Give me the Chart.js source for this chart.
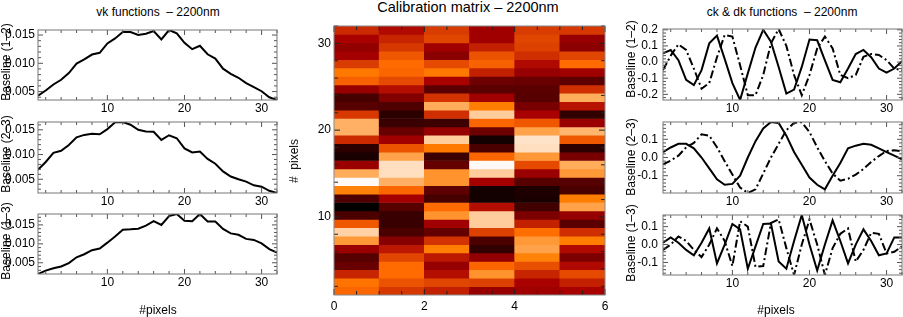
<!DOCTYPE html>
<html>
<head>
<meta charset="utf-8">
<title>vk / ck &amp; dk functions and calibration matrix – 2200nm</title>
<script src="https://cdn.jsdelivr.net/npm/chart.js@4.4.1/dist/chart.umd.min.js"></script>
<style>
  html, body { margin:0; padding:0; background:#fff; }
  #wrap { position:relative; width:903px; height:317px; overflow:hidden; background:#fff;
          font-family:"Liberation Sans", Arial, Helvetica, sans-serif; color:#000; }
  #wrap canvas { position:absolute; }
  .txt { position:absolute; white-space:pre; font-size:12px; line-height:1; transform:translate(-50%,-50%); }
  .rot { transform:translate(-50%,-50%) rotate(-90deg); }
</style>
</head>
<body>
<div id="wrap">
  <canvas id="L1"></canvas>
  <canvas id="L2"></canvas>
  <canvas id="L3"></canvas>
  <canvas id="M"></canvas>
  <canvas id="R1"></canvas>
  <canvas id="R2"></canvas>
  <canvas id="R3"></canvas>

  <div class="txt" style="left:158px;top:12px">vk functions  – 2200nm</div>
  <div class="txt" style="left:468px;top:7px;font-size:14.5px">Calibration matrix – 2200nm</div>
  <div class="txt" style="left:782px;top:12px">ck &amp; dk functions  – 2200nm</div>

  <div class="txt rot" style="left:6px;top:62px">Baseline (1–2)</div>
  <div class="txt rot" style="left:6px;top:154px">Baseline (2–3)</div>
  <div class="txt rot" style="left:6px;top:241px">Baseline (1–3)</div>
  <div class="txt rot" style="left:294px;top:161px">#  pixels</div>
  <div class="txt rot" style="left:631px;top:59px">Baseline (1–2)</div>
  <div class="txt rot" style="left:631px;top:157px">Baseline (2–3)</div>
  <div class="txt rot" style="left:631px;top:243px">Baseline (1–3)</div>

  <div class="txt" style="left:158px;top:310px">#pixels</div>
  <div class="txt" style="left:776px;top:310px">#pixels</div>
</div>

<script>
// ---------------- data ----------------
const pixelIndex = [1,2,3,4,5,6,7,8,9,10,11,12,13,14,15,16,17,18,19,20,21,22,23,24,25,26,27,28,29,30,31,32];

// vk functions (left column)
const vk12 = [0.00429,0.00518,0.00625,0.00708,0.00827,0.00994,0.01071,0.01155,0.01185,0.01351,0.01440,0.01554,
              0.01554,0.01500,0.01524,0.01571,0.01423,0.01589,0.01530,0.01363,0.01250,0.01310,0.01160,0.01083,
              0.00905,0.00815,0.00744,0.00649,0.00577,0.00506,0.00399,0.00351];
const vk23 = [0.00692,0.00849,0.01034,0.01075,0.01192,0.01349,0.01397,0.01418,0.01411,0.01514,0.01651,0.01658,
              0.01603,0.01500,0.01466,0.01459,0.01295,0.01390,0.01329,0.01123,0.01041,0.01062,0.00911,0.00815,
              0.00658,0.00555,0.00500,0.00452,0.00377,0.00350,0.00267,0.00222];
const vk13 = [0.00203,0.00293,0.00356,0.00401,0.00491,0.00644,0.00725,0.00833,0.00878,0.01031,0.01194,0.01374,
              0.01383,0.01401,0.01482,0.01599,0.01500,0.01734,0.01788,0.01608,0.01599,0.01788,0.01590,0.01590,
              0.01392,0.01275,0.01239,0.01131,0.01104,0.01013,0.00860,0.00770];

// ck (solid) & dk (dash-dot) functions (right column)
const ck12 = [0.054,0.075,0.012,-0.110,-0.143,-0.050,0.116,0.164,0.020,-0.130,-0.235,-0.070,0.090,0.200,0.127,-0.030,
              -0.195,-0.170,-0.030,0.140,0.135,0.010,-0.110,-0.125,-0.040,0.050,0.075,0.030,-0.040,-0.066,-0.040,0.006];
const dk12 = [-0.050,0.040,0.110,0.075,-0.040,-0.165,-0.130,0.030,0.168,0.158,-0.020,-0.205,-0.205,-0.080,0.116,0.205,
              0.100,-0.080,-0.205,-0.080,0.085,0.158,0.085,-0.080,-0.100,-0.080,0.033,0.050,0.044,0.012,-0.040,-0.050];
const ck23 = [0.030,0.055,0.075,0.075,0.050,0.000,-0.060,-0.120,-0.150,-0.145,-0.100,0.000,0.090,0.160,0.195,0.190,
              0.120,0.030,-0.040,-0.110,-0.150,-0.175,-0.100,-0.030,0.050,0.065,0.075,0.070,0.050,0.030,0.010,-0.010];
const dk23 = [-0.037,-0.017,0.010,0.056,0.080,0.127,0.120,0.056,-0.020,-0.094,-0.165,-0.195,-0.175,-0.088,0.000,0.075,
              0.150,0.190,0.194,0.140,0.056,-0.020,-0.088,-0.127,-0.117,-0.094,-0.063,-0.025,0.008,0.036,0.040,0.033];
const ck13 = [0.010,0.040,0.010,-0.030,-0.060,0.010,0.090,-0.105,0.000,0.115,0.085,-0.135,-0.010,0.115,0.117,-0.095,
              -0.135,0.020,0.165,0.000,-0.145,0.000,0.135,0.020,-0.105,0.000,0.085,0.020,-0.060,-0.050,0.040,0.040];
const dk13 = [-0.030,0.000,0.045,0.020,-0.030,-0.070,0.000,0.090,0.020,-0.120,0.130,0.100,-0.125,-0.120,0.120,0.140,
              -0.020,-0.170,0.000,0.140,0.000,-0.170,-0.020,0.060,0.090,-0.095,-0.030,0.065,0.060,-0.050,-0.040,-0.010];

// tick labels
const pixelTicks = [10, 20, 30];
const vkTicks = [0.005, 0.010, 0.015];
const ckTicks = [-0.2, -0.1, 0.0, 0.1, 0.2];
const matrixColTicks = [0, 2, 4, 6];
const matrixRowTicks = [10, 20, 30];

// calibration matrix: 6 columns (0..6), 32 pixel rows spanning 1..32; first row = top (pixel 32)
const matrixCols = [0, 1, 2, 3, 4, 5];
const matrixColRange = [0, 6];
const matrixRowRange = [1, 32];
const calibMatrix = [
  [0.54,0.47,0.58,0.43,0.58,0.57],
  [0.45,0.53,0.60,0.43,0.60,0.40],
  [0.39,0.57,0.43,0.52,0.59,0.37],
  [0.44,0.64,0.37,0.63,0.55,0.60],
  [0.58,0.68,0.61,0.66,0.47,0.68],
  [0.71,0.67,0.71,0.52,0.40,0.43],
  [0.66,0.61,0.45,0.29,0.28,0.25],
  [0.40,0.48,0.24,0.24,0.24,0.55],
  [0.19,0.35,0.56,0.43,0.23,0.82],
  [0.23,0.21,0.82,0.72,0.32,0.49],
  [0.57,0.12,0.55,0.89,0.45,0.13],
  [0.83,0.15,0.16,0.67,0.64,0.41],
  [0.83,0.28,0.40,0.29,0.80,0.84],
  [0.54,0.43,0.89,0.05,0.94,0.64],
  [0.12,0.63,0.71,0.20,0.93,0.12],
  [0.07,0.80,0.16,0.67,0.78,0.32],
  [0.41,0.93,0.27,0.99,0.61,0.82],
  [0.82,0.93,0.77,0.89,0.41,0.78],
  [0.99,0.83,0.77,0.44,0.23,0.23],
  [0.73,0.67,0.25,0.05,0.08,0.20],
  [0.21,0.44,0.19,0.05,0.07,0.72],
  [0.00,0.23,0.68,0.48,0.17,0.80],
  [0.20,0.15,0.77,0.89,0.33,0.40],
  [0.64,0.15,0.43,0.89,0.52,0.24],
  [0.90,0.20,0.27,0.59,0.69,0.55],
  [0.78,0.36,0.56,0.20,0.78,0.72],
  [0.41,0.50,0.72,0.13,0.80,0.47],
  [0.23,0.60,0.50,0.39,0.73,0.33],
  [0.28,0.68,0.40,0.67,0.62,0.47],
  [0.53,0.68,0.48,0.77,0.53,0.61],
  [0.70,0.63,0.60,0.59,0.45,0.52],
  [0.67,0.57,0.52,0.40,0.43,0.45]
];

// ---------------- helpers ----------------
const TICK_FONT = { family: '"Liberation Sans", Arial, Helvetica, sans-serif', size: 12 };
const DASH_DOT = [8, 3, 2, 3];

function heatColor(v) {           // IDL "Red Temperature"-like colour table
  const cl = t => Math.max(0, Math.min(255, Math.round(t)));
  return `rgb(${cl(255 * v / 0.68)},${cl(255 * (v - 0.45) / 0.55)},${cl(255 * (v - 0.72) / 0.28)})`;
}

function place(cv, plot, m) {
  cv.width = plot.r - plot.l + m.l + m.r;
  cv.height = plot.b - plot.t + m.t + m.b;
  cv.style.left = (plot.l - m.l) + 'px';
  cv.style.top = (plot.t - m.t) + 'px';
  cv.style.width = cv.width + 'px';
  cv.style.height = cv.height + 'px';
}

// IDL-style box with inward major/minor ticks on all four sides
const idlAxes = {
  id: 'idlAxes',
  afterDatasetsDraw(chart, args, o) {
    const { ctx, chartArea: a } = chart;
    const xs = chart.scales.x, ys = chart.scales.y;
    ctx.save();
    ctx.lineWidth = 1;
    ctx.strokeStyle = o.tickColor;
    ctx.beginPath();
    const each = (scale, major, minor, fn) => {
      const n0 = Math.ceil(scale.min / minor - 1e-6), n1 = Math.floor(scale.max / minor + 1e-6);
      for (let n = n0; n <= n1; n++) {
        const v = n * minor, r = v / major;
        fn(scale.getPixelForValue(v), Math.abs(r - Math.round(r)) < 1e-6 ? o.majorLen : o.minorLen);
      }
    };
    each(xs, o.xMajor, o.xMinor, (p, L) => {
      ctx.moveTo(p, a.bottom); ctx.lineTo(p, a.bottom - L);
      ctx.moveTo(p, a.top); ctx.lineTo(p, a.top + L);
    });
    each(ys, o.yMajor, o.yMinor, (p, L) => {
      ctx.moveTo(a.left, p); ctx.lineTo(a.left + L, p);
      ctx.moveTo(a.right, p); ctx.lineTo(a.right - L, p);
    });
    ctx.stroke();
    ctx.strokeStyle = o.frameColor;
    ctx.strokeRect(a.left, a.top, a.right - a.left, a.bottom - a.top);
    ctx.restore();
  }
};

function axisCommon(m, isX, tickVals, fmt, pad) {
  return {
    grid: { display: false, drawTicks: false },
    border: { display: false },
    ticks: { font: TICK_FONT, color: '#000', padding: pad, maxRotation: 0, minRotation: 0,
             autoSkip: false, callback: v => fmt(v) },
    afterBuildTicks: s => {
      s.ticks = tickVals.filter(v => v >= s.min - 1e-9 && v <= s.max + 1e-9).map(v => ({ value: v }));
    },
    afterFit: s => {
      if (isX) s.height = m.b; else s.width = m.l;
      s.paddingLeft = 0; s.paddingRight = 0; s.paddingTop = 0; s.paddingBottom = 0;
    }
  };
}

function lineChart(id, plot, m, series, yTicks, yFmt, axes) {
  const cv = document.getElementById(id);
  place(cv, plot, m);
  const all = series.flatMap(s => s.values);
  return new Chart(cv, {
    type: 'line',
    data: {
      datasets: series.map(s => ({
        data: pixelIndex.map((x, i) => ({ x, y: s.values[i] })),
        borderColor: '#000', borderWidth: 2, borderDash: s.dash || [],
        pointRadius: 0, tension: 0, fill: false, borderJoinStyle: 'miter'
      }))
    },
    options: {
      responsive: false, animation: false, events: [],
      layout: { padding: { left: 0, top: m.t, right: m.r, bottom: 0 } },
      plugins: { legend: { display: false }, tooltip: { enabled: false }, idlAxes: axes },
      scales: {
        x: Object.assign({ type: 'linear', min: pixelIndex[0], max: pixelIndex[pixelIndex.length - 1] },
                         axisCommon(m, true, pixelTicks, v => String(v), m.xPad)),
        y: Object.assign({ type: 'linear', min: Math.min(...all), max: Math.max(...all) },
                         axisCommon(m, false, yTicks, yFmt, m.yPad))
      }
    },
    plugins: [idlAxes]
  });
}

// ---------------- left column: vk functions ----------------
const mL = { l: 40, r: 12, t: 10, b: 22, xPad: 1, yPad: 3 };
const vkAxes = { xMajor: 10, xMinor: 2, yMajor: 0.005, yMinor: 0.001, majorLen: 5, minorLen: 3,
                 tickColor: '#555', frameColor: '#777' };
const vkFmt = v => v.toFixed(3);
lineChart('L1', { l: 38, r: 277, t: 30, b: 100 }, mL, [{ values: vk12 }], vkTicks, vkFmt, vkAxes);
lineChart('L2', { l: 38, r: 277, t: 122, b: 193 }, mL, [{ values: vk23 }], vkTicks, vkFmt, vkAxes);
lineChart('L3', { l: 38, r: 277, t: 214, b: 274 }, mL, [{ values: vk13 }], vkTicks, vkFmt, vkAxes);

// ---------------- right column: ck & dk functions ----------------
const mR = { l: 45, r: 12, t: 10, b: 22, xPad: 1, yPad: 5 };
const ckAxes = { xMajor: 10, xMinor: 2, yMajor: 0.1, yMinor: 0.02, majorLen: 5, minorLen: 3,
                 tickColor: '#555', frameColor: '#777' };
const ckFmt = v => v.toFixed(1);
lineChart('R1', { l: 663, r: 902, t: 29, b: 100 }, mR,
          [{ values: ck12 }, { values: dk12, dash: DASH_DOT }], ckTicks, ckFmt, ckAxes);
lineChart('R2', { l: 663, r: 902, t: 122, b: 193 }, mR,
          [{ values: ck23 }, { values: dk23, dash: DASH_DOT }], ckTicks, ckFmt, ckAxes);
lineChart('R3', { l: 663, r: 902, t: 215, b: 275 }, mR,
          [{ values: ck13 }, { values: dk13, dash: DASH_DOT }], ckTicks, ckFmt, ckAxes);

// ---------------- middle: calibration matrix (floating bars as cells) ----------------
(function () {
  const plot = { l: 334, r: 605, t: 26, b: 295 };
  const m = { l: 40, r: 12, t: 10, b: 22, xPad: 4, yPad: 3 };
  const cv = document.getElementById('M');
  place(cv, plot, m);
  const nRows = calibMatrix.length;
  const rowSpan = (matrixRowRange[1] - matrixRowRange[0]) / nRows;
  const datasets = calibMatrix.map((row, r) => {
    const hi = matrixRowRange[1] - r * rowSpan, lo = hi - rowSpan;
    return {
      data: matrixCols.map(c => ({ x: c + 0.5, y: [lo, hi] })),
      backgroundColor: row.map(heatColor),
      borderWidth: 0, grouped: false, categoryPercentage: 1, barPercentage: 1
    };
  });
  new Chart(cv, {
    type: 'bar',
    data: { datasets },
    options: {
      responsive: false, animation: false, events: [],
      layout: { padding: { left: 0, top: m.t, right: m.r, bottom: 0 } },
      plugins: { legend: { display: false }, tooltip: { enabled: false },
                 idlAxes: { xMajor: 2, xMinor: 0.5, yMajor: 10, yMinor: 2, majorLen: 6, minorLen: 4,
                            tickColor: '#222', frameColor: '#888' } },
      scales: {
        x: Object.assign({ type: 'linear', offset: false, min: matrixColRange[0], max: matrixColRange[1] },
                         axisCommon(m, true, matrixColTicks, v => String(v), m.xPad)),
        y: Object.assign({ type: 'linear', min: matrixRowRange[0], max: matrixRowRange[1], beginAtZero: false },
                         axisCommon(m, false, matrixRowTicks, v => String(v), m.yPad))
      }
    },
    plugins: [idlAxes]
  });
})();
</script>
</body>
</html>
